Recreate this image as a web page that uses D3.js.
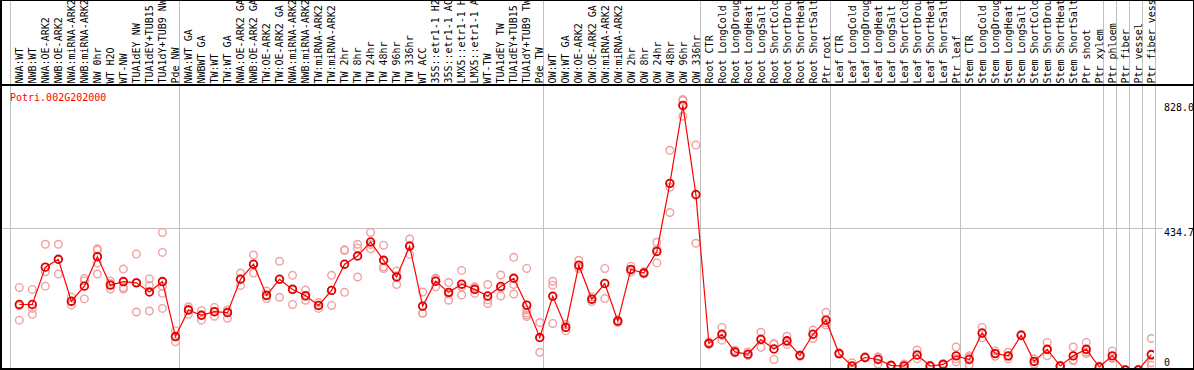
<!DOCTYPE html>
<html>
<head>
<meta charset="utf-8">
<script src="https://cdn.jsdelivr.net/npm/d3@7"></script>
<style>
  html, body { margin: 0; padding: 0; background: #fff; }
  svg { display: block; }
  text { font-family: "DejaVu Sans Mono", "Liberation Mono", monospace; font-size: 10px; }
</style>
</head>
<body>
<div id="chart"></div>
<script>
const geneName = "Potri.002G202000";

const categories = [
  "NWA:WT","NWB:WT","NWA:OE-ARK2","NWB:OE-ARK2","NWA:miRNA-ARK2","NWB:miRNA-ARK2","NW 0hr","WT H2O","WT-NW",
  "TUA1dEY NW","TUA1dEY+TUB15 NW","TUA1dY+TUB9 NW","Pde NW",
  "NWA:WT GA","NWBWT GA","TW:WT","TW:WT GA","NWA:OE-ARK2 GA","NWB:OE-ARK2 GA","TW:OE-ARK2","TW:OE-ARK2 GA",
  "NWA:miRNA-ARK2 GA","NWB:miRNA-ARK2 GA","TW:miRNA-ARK2","TW:miRNA-ARK2 GA","TW 2hr","TW 8hr","TW 24hr","TW 48hr",
  "TW 96hr","TW 336hr","WT ACC","35S::etr1-1 H2O","35S::etr1-1 ACC","LMX5::etr1-1 H2O","LMX5::etr1-1 ACC","WT-TW",
  "TUA1dEY TW","TUA1dEY+TUB15 TW","TUA1dY+TUB9 TW","Pde TW",
  "OW:WT","OW:WT GA","OW:OE-ARK2","OW:OE-ARK2 GA","OW:miRNA-ARK2","OW:miRNA-ARK2 GA","OW 2hr","OW 8hr","OW 24hr",
  "OW 48hr","OW 96hr","OW 336hr",
  "Root CTR","Root LongCold","Root LongDrought","Root LongHeat","Root LongSalt","Root ShortCold","Root ShortDrought",
  "Root ShortHeat","Root ShortSalt","Ptr root",
  "Leaf CTR","Leaf LongCold","Leaf LongDrought","Leaf LongHeat","Leaf LongSalt","Leaf ShortCold","Leaf ShortDrought",
  "Leaf ShortHeat","Leaf ShortSalt","Ptr leaf",
  "Stem CTR","Stem LongCold","Stem LongDrought","Stem LongHeat","Stem LongSalt","Stem ShortCold","Stem ShortDrought",
  "Stem ShortHeat","Stem ShortSalt","Ptr shoot","Ptr xylem",
  "Ptr phloem","Ptr fiber","Ptr vessel","Ptr fiber vessel"
];

const meanValues = [
  202,202,316,340,212,258,348,261,272,268,240,272,104,
  185,169,180,177,279,325,230,279,248,229,199,245,325,350,393,337,286,380,197,273,239,264,248,228,257,282,200,101,
  227,132,322,218,266,151,309,298,364,572,810,538,
  83,111,57,50,95,66,91,46,111,154,
  52,14,40,34,16,14,48,14,19,45,
  34,115,52,45,108,28,65,14,45,65,11,
  45,2,2,49
];

const replicateValues = [
  [254,198,154],[248,190,172],[386,302,258],[386,339,295],[225,210,200],[281,274,219],[372,368,329,295],
  [274,266,249],[310,254,249],[356,269,179],[280,260,182],[422,361,258,236,190],[122,104,88],
  [195,188,172],[183,170,154],[193,180,166],[185,180,160],[298,280,260],[353,324,298],[243,228,220],
  [334,279,224],[291,250,202],[246,226,215],[208,200,190],[291,245,199],[369,367,239],[386,374,286],
  [422,385,372],[383,317,312],[304,290,263],[402,383,355],[240,176,175],[283,279,256],[269,233,215],
  [306,256,231],[256,252,236],[263,216,205],[292,251,228],[346,263,234],[312,185,176,170,165],[147,100,56],
  [273,261,144],[141,133,122],[337,317,312],[225,218,211],[312,266,220],[155,151,147],[319,307,301],
  [302,296,296],[392,371,329],[673,560,483],[828,825,777],[689,536,389],
  [87,83,80],[132,107,93],[62,55,54],[57,48,46],[117,98,71],[83,80,34],[105,88,80],[48,46,44],[124,110,98],[178,146,139],
  [55,52,50],[24,12,6],[42,40,38],[42,40,20],[18,16,14],[20,14,8],[63,46,36],[16,14,12],[22,19,16],[72,36,27],
  [45,40,17],[132,113,100],[60,52,44],[56,44,36],[110,108,106],[36,28,20],[86,64,45],[16,14,12],[72,33,30],[86,57,52],[14,11,8],
  [60,38,37],[3,2,1],[3,2,1],[98,24,16]
];

// index of first column of each group (separator lines), plus end
const groupStarts = [0, 13, 41, 53, 63, 73, 84, 85, 86, 87, 88];

const maxValue = 828.0;
const yTickValues = [828.0, 434.7, 0];
const yTickLabels = ["828.0", "434.7", "0"];

const W = 1194, H = 370;
const svg = d3.select("#chart").append("svg").attr("width", W).attr("height", H);

const x = d3.scaleBand().domain(d3.range(categories.length)).range([10.5, 1155.5]).paddingInner(0).paddingOuter(0);
const px = i => x(i) + 8.8;
const y = d3.scaleLinear().domain([0, maxValue * 1.05]).range([370.6, 86]);

const crisp = v => Math.round(v - 0.5) + 0.5;

// group separators (gray), full height
svg.append("g").selectAll("line").data(groupStarts).join("line")
  .attr("x1", d => crisp(x(d) === undefined ? x.range()[1] : x(d)))
  .attr("x2", d => crisp(x(d) === undefined ? x.range()[1] : x(d)))
  .attr("y1", 0).attr("y2", H)
  .attr("stroke", "#c0c0c0").attr("stroke-width", 1);

// mid gridline
svg.append("line")
  .attr("x1", 1).attr("x2", 1163)
  .attr("y1", crisp(y(434.7))).attr("y2", crisp(y(434.7)))
  .attr("stroke", "#c0c0c0").attr("stroke-width", 1);

// frame
svg.append("line").attr("x1", 0).attr("x2", W).attr("y1", 0.5).attr("y2", 0.5).attr("stroke", "#000");
svg.append("line").attr("x1", 0).attr("x2", W).attr("y1", 85).attr("y2", 85).attr("stroke", "#000").attr("stroke-width", 2);
svg.append("line").attr("x1", 0).attr("x2", W).attr("y1", 369).attr("y2", 369).attr("stroke", "#000").attr("stroke-width", 2);
svg.append("line").attr("x1", 1).attr("x2", 1).attr("y1", 0).attr("y2", H).attr("stroke", "#000").attr("stroke-width", 2);
svg.append("line").attr("x1", 1193.5).attr("x2", 1193.5).attr("y1", 0).attr("y2", H).attr("stroke", "#000").attr("stroke-width", 1);

// header labels (rotated)
svg.append("g").selectAll("text").data(categories).join("text")
  .attr("transform", (d, i) => `translate(${px(i) + 3.7},83.5) rotate(-90)`)
  .attr("fill", "#000")
  .text(d => d);

// gene label
svg.append("text").attr("x", 10).attr("y", 100.5).attr("fill", "#ff0000").text(geneName);

// y tick labels
const tickOffset = [11.5, 8, -4.5];
svg.append("g").selectAll("text").data(yTickValues).join("text")
  .attr("x", 1164)
  .attr("y", (d, i) => y(d) + tickOffset[i])
  .attr("fill", "#000")
  .text((d, i) => yTickLabels[i]);

// plot clip
svg.append("clipPath").attr("id", "plotclip").append("rect")
  .attr("x", 2).attr("y", 87).attr("width", 1152).attr("height", 281);

const plot = svg.append("g").attr("clip-path", "url(#plotclip)");

// replicates
const reps = [];
replicateValues.forEach((arr, i) => arr.forEach(v => reps.push({ i, v })));
plot.append("g").selectAll("circle").data(reps).join("circle")
  .attr("cx", d => px(d.i)).attr("cy", d => y(d.v)).attr("r", 3.8)
  .attr("fill", "none").attr("stroke", "#f0a0a0").attr("stroke-width", 1.4);

// mean line
plot.append("path")
  .datum(meanValues)
  .attr("d", d3.line().x((d, i) => px(i)).y(d => y(d)))
  .attr("fill", "none").attr("stroke", "#ff0000").attr("stroke-width", 1.2);

// mean markers
plot.append("g").selectAll("circle").data(meanValues).join("circle")
  .attr("cx", (d, i) => px(i)).attr("cy", d => y(d)).attr("r", 3.8)
  .attr("fill", "none").attr("stroke", "#e00000").attr("stroke-width", 1.8);
</script>
</body>
</html>
